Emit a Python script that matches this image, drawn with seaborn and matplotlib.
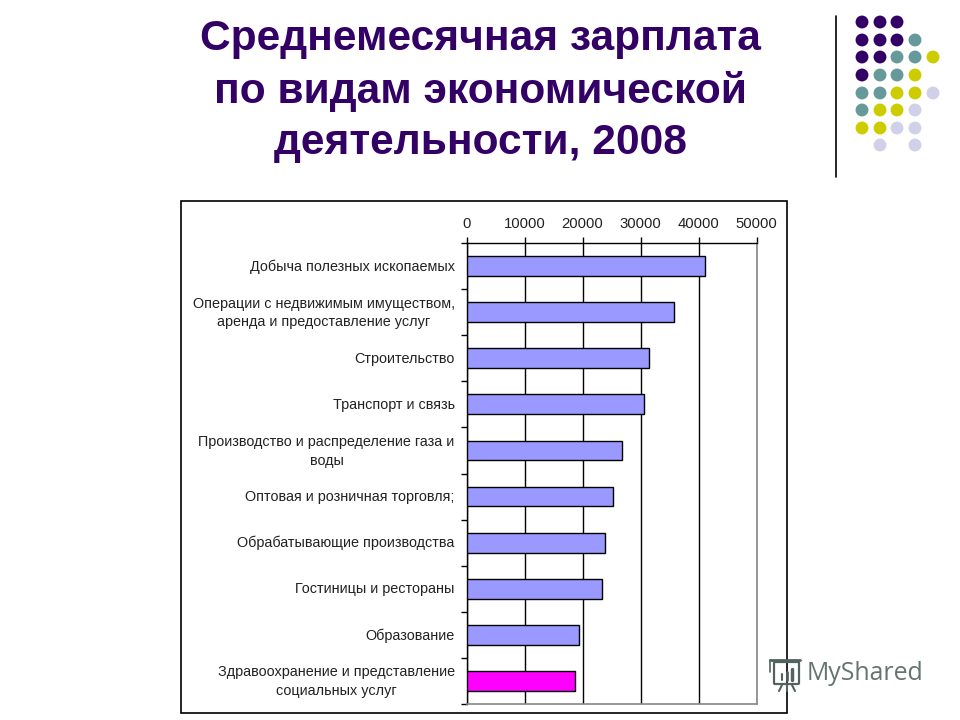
import pandas as pd
import matplotlib.pyplot as plt
from matplotlib.patches import Rectangle, FancyBboxPatch
from matplotlib.transforms import ScaledTranslation
import seaborn as sns

W, H = 960, 720

categories = [
    "Добыча полезных ископаемых",
    "Операции с недвижимым имуществом,\nаренда и предоставление услуг",
    "Строительство",
    "Транспорт и связь",
    "Производство и распределение газа и\nводы",
    "Оптовая и розничная торговля;",
    "Обрабатывающие производства",
    "Гостиницы и рестораны",
    "Образование",
    "Здравоохранение и представление\nсоциальных услуг",
]
salary = [41200, 35850, 31400, 30550, 26850, 25300, 23900, 23400, 19350, 18700]
bar_colors = ["#9999ff"] * 9 + ["#ff00ff"]
x_ticks = [0, 10000, 20000, 30000, 40000, 50000]

title_lines = ["Среднемесячная зарплата", "по видам экономической", "деятельности, 2008"]

# decoration dots: x, y, colour
purple, teal, yellow, lilac = "#330066", "#669999", "#cccc00", "#d0d0e8"
dot_x = [862, 880, 897,
         862, 880, 897, 915,
         862, 880, 897, 915, 933,
         862, 880, 897, 915,
         862, 880, 897, 915, 933,
         862, 880, 897, 915,
         862, 880, 897, 915,
         880, 915]
dot_y = [22] * 3 + [40] * 4 + [57] * 5 + [75] * 4 + [93] * 5 + [110] * 4 + [128] * 4 + [145] * 2
dot_c = [purple] * 3 + [purple, purple, purple, teal] + [purple, purple, teal, teal, yellow] + \
        [purple, teal, teal, yellow] + [teal, teal, yellow, yellow, lilac] + \
        [teal, yellow, yellow, lilac] + [yellow, yellow, lilac, lilac] + [lilac, lilac]

df = pd.DataFrame({"category": categories, "salary": salary})

sns.set_style("white")
plt.rcParams["font.family"] = ["Liberation Sans", "DejaVu Sans"]

fig = plt.figure(figsize=(9.6, 7.2), dpi=100)

# full page layer in pixel coordinates, for frame, title and dots
page = fig.add_axes([0, 0, 1, 1])
page.set_xlim(0, W)
page.set_ylim(H, 0)
page.axis("off")

page.add_patch(Rectangle((181, 201), 606, 512, fill=False, ec="black", lw=1.2))
page.plot([836, 836], [16, 177], color="black", lw=1.2)
page.scatter(dot_x, dot_y, c=dot_c, s=86, linewidths=0)

for line, y in zip(title_lines, [39, 91, 143]):
    page.text(480, y, line, color=purple, fontsize=30.6, fontweight="bold", ha="center", va="center")

# logo
logo = "#53625f"
page.text(807, 674, "MyShared", color="#66736f", fontsize=17.9, ha="left", va="center", family="Open Sans")
page.add_patch(FancyBboxPatch((775, 663), 23, 20, boxstyle="round,pad=1", fill=False, ec=logo, lw=1.6))
page.plot([770, 800], [660, 660], color=logo, lw=2)
page.plot([770, 770], [660, 672], color=logo, lw=1.2)
page.plot([782, 779], [685, 691], color=logo, lw=1.5)
page.plot([792, 795], [685, 691], color=logo, lw=1.5)
page.plot([787, 787], [685, 691], color=logo, lw=1.5)
page.plot([782, 782], [674, 680], color=logo, lw=1.5)
page.plot([787, 787], [672, 680], color=logo, lw=2)
page.plot([792, 792], [669, 680], color=logo, lw=2.5)

# chart
ax_l, ax_r, ax_t, ax_b = 466.5, 756.5, 243, 704
ax = fig.add_axes([ax_l / W, 1 - ax_b / H, (ax_r - ax_l) / W, (ax_b - ax_t) / H])
ax.patch.set_alpha(0)
sns.barplot(data=df, y="category", x="salary", hue="category", palette=bar_colors, legend=False,
            width=0.43, edgecolor="black", linewidth=1, saturation=1, ax=ax, zorder=3)

ax.set_xlim(0, 50000)
ax.set_ylim(9.5, -0.5)
ax.set_xlabel("")
ax.set_ylabel("")
ax.set_xticks(x_ticks)
ax.xaxis.tick_top()
ax.grid(axis="x", color="black", lw=1)
ax.grid(axis="y", visible=False)
ax.set_axisbelow(True)
for gl, x in zip(ax.get_xgridlines(), x_ticks):
    if x == 50000:
        gl.set_color("#888888")

for side in ["top", "left"]:
    ax.spines[side].set_visible(True)
    ax.spines[side].set_color("black")
    ax.spines[side].set_linewidth(1)
for side in ["right", "bottom"]:
    ax.spines[side].set_visible(True)
    ax.spines[side].set_color("#888888")
    ax.spines[side].set_linewidth(1.2)

ax.tick_params(axis="x", top=True, bottom=False, length=4, width=1, color="black", labelsize=10.7,
               pad=5, labelcolor="#222222")
ax.set_yticks(range(len(categories)))
ax.set_yticklabels(categories, linespacing=1.42)
ax.tick_params(axis="y", left=False, labelsize=10.4, pad=5, labelcolor="#222222")
for lab in ax.get_yticklabels():
    lab.set_multialignment("center")
    # two line labels sit a bit higher in the original
    shift = 3 if "\n" in lab.get_text() else 1
    lab.set_transform(lab.get_transform() + ScaledTranslation(0, shift / 100, fig.dpi_scale_trans))

# tick marks sit between the categories
ax.set_yticks([i - 0.5 for i in range(len(categories) + 1)], minor=True)
ax.tick_params(axis="y", which="minor", left=True, length=4, width=1, color="black")

fig.savefig("out.png", dpi=100)
